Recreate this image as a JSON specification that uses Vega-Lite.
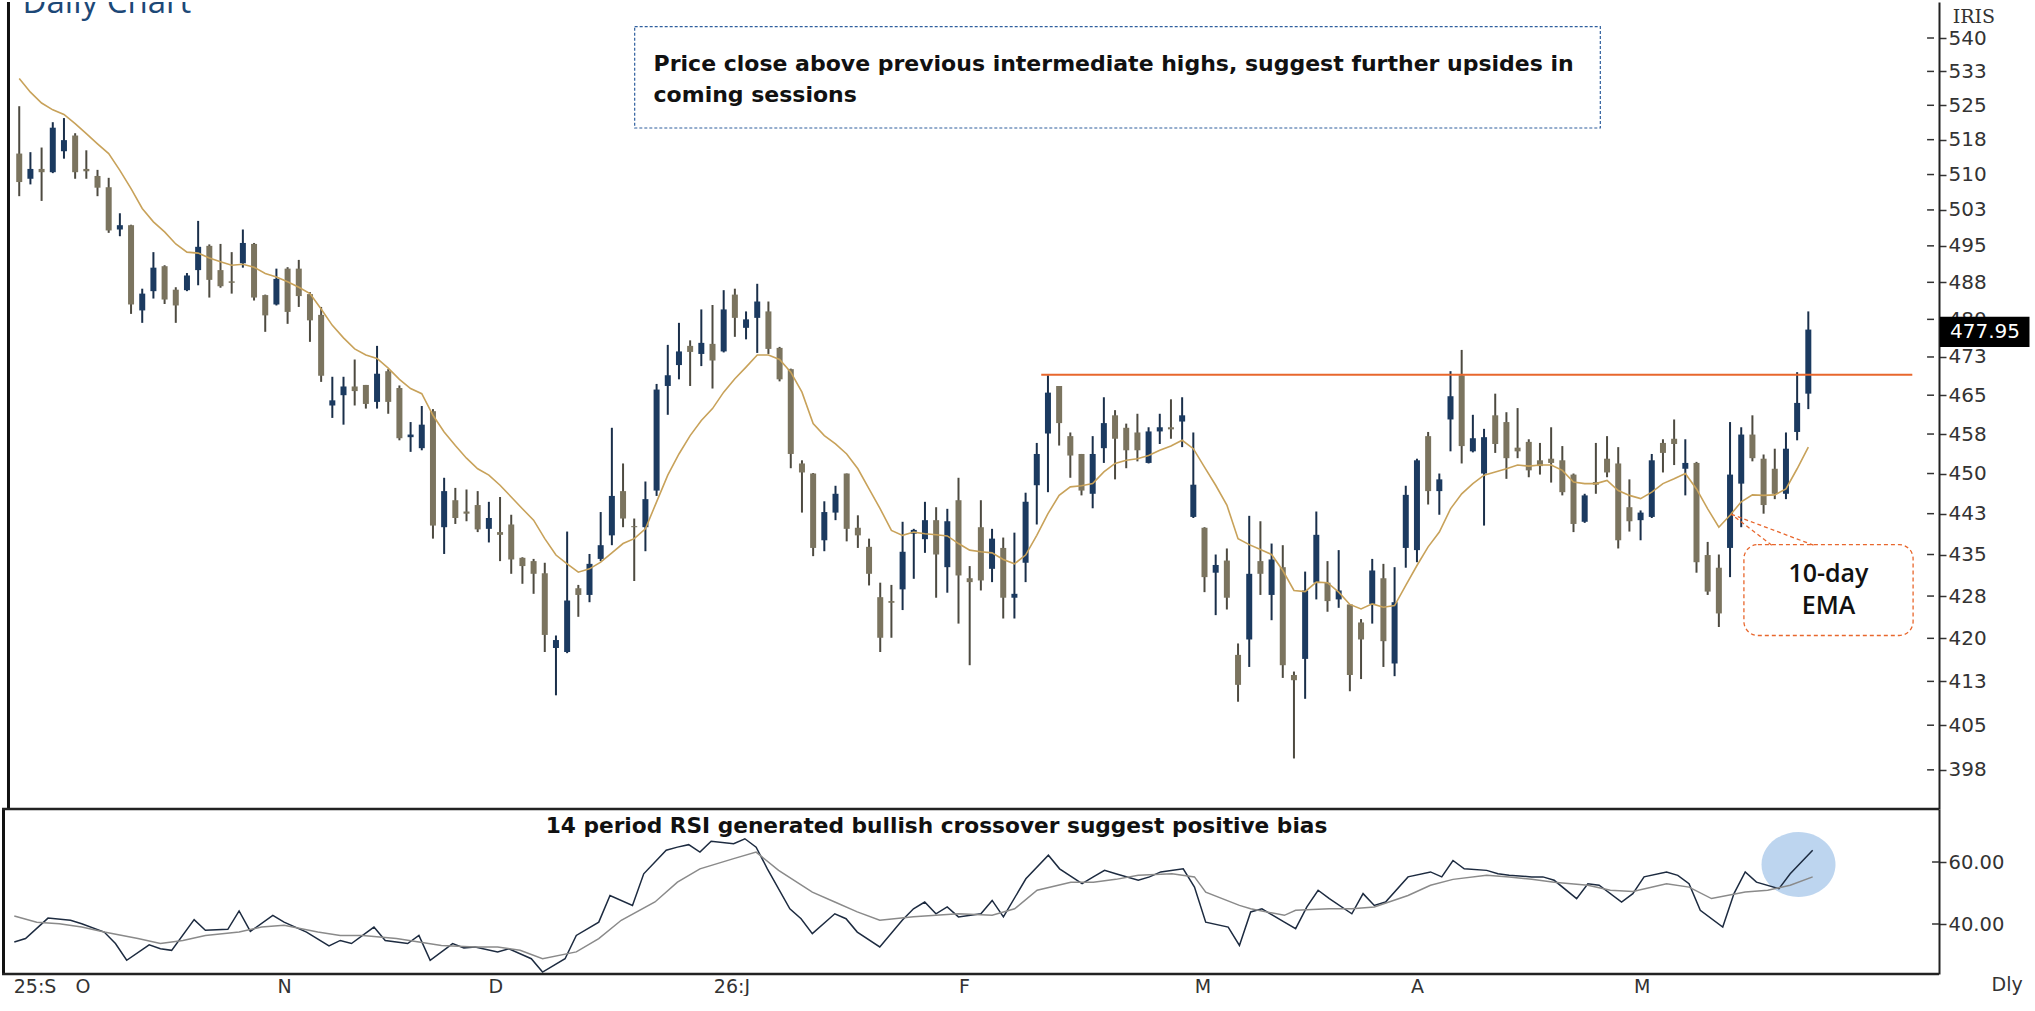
{
"$schema": "https://vega.github.io/schema/vega-lite/v6.json",
"background": "white",
"padding": {"left": 0, "top": 0, "right": 0, "bottom": 0},
"spacing": 0,
"bounds": "flush",
"config": {"view": {"stroke": null}, "axis": {"grid": false, "title": null}},
"datasets": {
"px": [
{"i":0,"o":514.5,"h":524.8,"l":505.4,"c":508.4,"e":530.9},
{"i":1,"o":509.1,"h":514.8,"l":507.9,"c":511.2,"e":527.9},
{"i":2,"o":511.2,"h":515.8,"l":504.4,"c":510.5,"e":525.5},
{"i":3,"o":510.5,"h":521.3,"l":510.3,"c":520.1,"e":524.0},
{"i":4,"o":515.0,"h":522.2,"l":513.4,"c":517.4,"e":523.0},
{"i":5,"o":518.4,"h":518.9,"l":509.1,"c":510.5,"e":521.0},
{"i":6,"o":511.2,"h":515.2,"l":509.1,"c":510.7,"e":518.8},
{"i":7,"o":509.7,"h":511.0,"l":505.4,"c":507.2,"e":516.6},
{"i":8,"o":507.3,"h":509.3,"l":497.7,"c":498.2,"e":514.5},
{"i":9,"o":498.4,"h":501.8,"l":497.0,"c":499.3,"e":510.9},
{"i":10,"o":499.3,"h":499.4,"l":481.1,"c":483.0,"e":507.0},
{"i":11,"o":481.8,"h":486.2,"l":479.3,"c":485.2,"e":502.8},
{"i":12,"o":485.7,"h":493.7,"l":484.2,"c":490.5,"e":500.0},
{"i":13,"o":490.8,"h":491.0,"l":483.1,"c":484.0,"e":497.9},
{"i":14,"o":486.0,"h":486.5,"l":479.3,"c":482.8,"e":495.4},
{"i":15,"o":485.9,"h":489.4,"l":485.7,"c":488.9,"e":493.7},
{"i":16,"o":490.0,"h":500.2,"l":486.9,"c":494.8,"e":493.5},
{"i":17,"o":495.0,"h":495.3,"l":484.4,"c":488.0,"e":492.5},
{"i":18,"o":490.0,"h":495.4,"l":486.4,"c":486.7,"e":491.7},
{"i":19,"o":487.7,"h":493.7,"l":485.2,"c":487.4,"e":491.0},
{"i":20,"o":491.4,"h":498.4,"l":490.5,"c":495.6,"e":491.2},
{"i":21,"o":495.4,"h":495.6,"l":483.8,"c":484.4,"e":490.6},
{"i":22,"o":484.9,"h":485.0,"l":477.5,"c":480.8,"e":489.3},
{"i":23,"o":483.0,"h":490.3,"l":482.8,"c":488.2,"e":488.6},
{"i":24,"o":490.3,"h":490.6,"l":479.1,"c":481.5,"e":487.6},
{"i":25,"o":490.3,"h":492.1,"l":482.5,"c":484.7,"e":486.5},
{"i":26,"o":485.1,"h":485.5,"l":475.5,"c":479.8,"e":485.2},
{"i":27,"o":480.9,"h":482.5,"l":467.6,"c":468.8,"e":482.1},
{"i":28,"o":463.0,"h":468.6,"l":460.6,"c":464.0,"e":478.8},
{"i":29,"o":465.0,"h":468.6,"l":459.3,"c":466.7,"e":476.3},
{"i":30,"o":466.7,"h":472.0,"l":463.0,"c":465.8,"e":474.1},
{"i":31,"o":467.0,"h":467.0,"l":462.4,"c":463.3,"e":472.9},
{"i":32,"o":463.7,"h":474.7,"l":462.4,"c":469.2,"e":472.2},
{"i":33,"o":469.7,"h":470.1,"l":461.4,"c":463.7,"e":470.3},
{"i":34,"o":466.4,"h":466.9,"l":456.3,"c":456.7,"e":468.1},
{"i":35,"o":456.9,"h":459.8,"l":454.1,"c":457.4,"e":466.3},
{"i":36,"o":454.8,"h":462.9,"l":454.4,"c":459.3,"e":465.3},
{"i":37,"o":461.9,"h":462.3,"l":437.9,"c":440.3,"e":461.1},
{"i":38,"o":440.0,"h":449.2,"l":435.1,"c":446.7,"e":457.9},
{"i":39,"o":445.0,"h":447.3,"l":440.6,"c":441.7,"e":455.3},
{"i":40,"o":442.9,"h":447.0,"l":441.1,"c":442.5,"e":452.9},
{"i":41,"o":444.1,"h":446.7,"l":439.1,"c":439.6,"e":450.9},
{"i":42,"o":439.7,"h":444.7,"l":437.2,"c":441.7,"e":449.7},
{"i":43,"o":439.1,"h":445.6,"l":433.8,"c":438.6,"e":447.8},
{"i":44,"o":440.5,"h":442.3,"l":431.5,"c":434.1,"e":445.6},
{"i":45,"o":434.4,"h":434.5,"l":429.7,"c":432.9,"e":443.4},
{"i":46,"o":433.8,"h":434.2,"l":427.9,"c":431.5,"e":441.3},
{"i":47,"o":431.6,"h":433.5,"l":417.6,"c":420.6,"e":437.9},
{"i":48,"o":418.3,"h":420.5,"l":410.1,"c":419.7,"e":434.9},
{"i":49,"o":417.6,"h":439.2,"l":417.4,"c":426.7,"e":433.3},
{"i":50,"o":428.9,"h":429.5,"l":423.8,"c":427.7,"e":431.8},
{"i":51,"o":427.7,"h":435.1,"l":426.4,"c":433.3,"e":432.4},
{"i":52,"o":434.2,"h":442.8,"l":433.8,"c":436.7,"e":433.6},
{"i":53,"o":438.5,"h":458.7,"l":436.7,"c":445.8,"e":435.3},
{"i":54,"o":446.7,"h":451.9,"l":440.0,"c":441.6,"e":437.0},
{"i":55,"o":440.2,"h":441.6,"l":430.2,"c":440.0,"e":437.9},
{"i":56,"o":440.0,"h":448.5,"l":435.6,"c":445.2,"e":439.7},
{"i":57,"o":446.8,"h":467.2,"l":445.8,"c":466.1,"e":444.7},
{"i":58,"o":466.8,"h":474.9,"l":461.2,"c":468.9,"e":449.7},
{"i":59,"o":470.9,"h":479.3,"l":468.1,"c":473.6,"e":453.7},
{"i":60,"o":474.7,"h":475.8,"l":466.8,"c":473.5,"e":457.2},
{"i":61,"o":473.1,"h":482.0,"l":470.7,"c":475.3,"e":460.1},
{"i":62,"o":475.1,"h":482.9,"l":466.3,"c":471.8,"e":462.4},
{"i":63,"o":473.6,"h":485.9,"l":473.4,"c":482.0,"e":465.6},
{"i":64,"o":485.0,"h":486.2,"l":476.5,"c":480.3,"e":468.2},
{"i":65,"o":478.3,"h":481.6,"l":476.0,"c":480.0,"e":470.5},
{"i":66,"o":480.3,"h":487.2,"l":473.3,"c":483.6,"e":472.9},
{"i":67,"o":481.6,"h":483.6,"l":473.1,"c":474.1,"e":472.9},
{"i":68,"o":474.3,"h":474.5,"l":467.7,"c":468.1,"e":472.0},
{"i":69,"o":470.1,"h":470.2,"l":451.0,"c":453.7,"e":469.5},
{"i":70,"o":451.9,"h":452.5,"l":442.7,"c":450.2,"e":465.6},
{"i":71,"o":450.0,"h":450.1,"l":434.7,"c":436.2,"e":459.5},
{"i":72,"o":437.6,"h":444.8,"l":435.6,"c":442.8,"e":457.2},
{"i":73,"o":442.7,"h":447.7,"l":441.3,"c":446.2,"e":455.6},
{"i":74,"o":450.0,"h":450.0,"l":437.4,"c":439.7,"e":453.7},
{"i":75,"o":439.9,"h":442.2,"l":436.2,"c":438.5,"e":450.9},
{"i":76,"o":436.4,"h":437.9,"l":429.4,"c":431.5,"e":447.1},
{"i":77,"o":427.3,"h":429.9,"l":417.6,"c":420.1,"e":443.4},
{"i":78,"o":426.6,"h":429.5,"l":420.1,"c":426.3,"e":439.4},
{"i":79,"o":428.7,"h":441.0,"l":425.0,"c":435.5,"e":438.5},
{"i":80,"o":438.8,"h":439.7,"l":430.6,"c":439.5,"e":439.1},
{"i":81,"o":437.8,"h":444.7,"l":435.3,"c":441.3,"e":438.8},
{"i":82,"o":441.3,"h":443.7,"l":427.2,"c":435.0,"e":438.6},
{"i":83,"o":432.7,"h":443.4,"l":428.1,"c":441.1,"e":438.4},
{"i":84,"o":445.0,"h":449.2,"l":422.6,"c":431.2,"e":437.0},
{"i":85,"o":430.7,"h":432.9,"l":415.3,"c":430.0,"e":435.8},
{"i":86,"o":440.0,"h":445.0,"l":428.5,"c":430.3,"e":435.5},
{"i":87,"o":432.4,"h":439.7,"l":430.0,"c":437.9,"e":435.3},
{"i":88,"o":436.2,"h":438.1,"l":423.5,"c":427.2,"e":434.1},
{"i":89,"o":427.2,"h":439.0,"l":423.5,"c":427.9,"e":433.3},
{"i":90,"o":433.5,"h":446.4,"l":430.0,"c":444.7,"e":434.9},
{"i":91,"o":447.8,"h":455.8,"l":440.5,"c":453.7,"e":438.5},
{"i":92,"o":457.6,"h":468.9,"l":446.5,"c":465.5,"e":442.5},
{"i":93,"o":466.8,"h":466.8,"l":455.3,"c":459.6,"e":445.9},
{"i":94,"o":457.1,"h":457.8,"l":449.2,"c":453.4,"e":447.5},
{"i":95,"o":453.7,"h":453.7,"l":445.9,"c":446.8,"e":447.7},
{"i":96,"o":446.2,"h":457.1,"l":443.5,"c":453.7,"e":448.1},
{"i":97,"o":454.8,"h":464.6,"l":452.0,"c":459.6,"e":450.3},
{"i":98,"o":461.1,"h":462.1,"l":448.9,"c":456.6,"e":451.9},
{"i":99,"o":458.7,"h":459.5,"l":451.0,"c":454.4,"e":452.5},
{"i":100,"o":457.8,"h":461.4,"l":452.3,"c":454.4,"e":452.8},
{"i":101,"o":452.0,"h":458.8,"l":451.9,"c":458.0,"e":453.4},
{"i":102,"o":458.0,"h":461.4,"l":455.6,"c":458.8,"e":454.4},
{"i":103,"o":458.8,"h":464.2,"l":456.6,"c":458.4,"e":455.2},
{"i":104,"o":459.9,"h":464.6,"l":455.0,"c":461.1,"e":456.3},
{"i":105,"o":441.9,"h":457.8,"l":441.7,"c":447.9,"e":454.7},
{"i":106,"o":439.9,"h":440.0,"l":428.2,"c":430.9,"e":451.2},
{"i":107,"o":431.7,"h":435.0,"l":424.1,"c":433.1,"e":447.8},
{"i":108,"o":433.9,"h":436.1,"l":425.1,"c":427.2,"e":444.1},
{"i":109,"o":417.1,"h":419.1,"l":409.0,"c":411.9,"e":437.9},
{"i":110,"o":419.8,"h":442.1,"l":415.0,"c":431.5,"e":436.8},
{"i":111,"o":433.8,"h":441.1,"l":427.7,"c":431.5,"e":435.9},
{"i":112,"o":427.7,"h":437.0,"l":423.2,"c":434.1,"e":435.0},
{"i":113,"o":432.7,"h":436.7,"l":413.1,"c":415.3,"e":432.1},
{"i":114,"o":413.6,"h":414.2,"l":399.4,"c":412.7,"e":428.5},
{"i":115,"o":416.4,"h":431.9,"l":409.5,"c":428.5,"e":428.3},
{"i":116,"o":429.9,"h":442.9,"l":426.9,"c":438.6,"e":430.0},
{"i":117,"o":429.9,"h":433.8,"l":424.7,"c":426.6,"e":429.9},
{"i":118,"o":426.9,"h":435.8,"l":425.4,"c":428.5,"e":428.2},
{"i":119,"o":426.0,"h":426.0,"l":410.8,"c":413.6,"e":426.0},
{"i":120,"o":422.8,"h":423.4,"l":412.9,"c":419.8,"e":425.2},
{"i":121,"o":426.1,"h":434.2,"l":422.6,"c":432.1,"e":426.1},
{"i":122,"o":430.7,"h":433.3,"l":415.0,"c":419.5,"e":425.5},
{"i":123,"o":415.6,"h":432.7,"l":413.4,"c":426.4,"e":425.8},
{"i":124,"o":436.2,"h":447.7,"l":432.6,"c":446.0,"e":429.4},
{"i":125,"o":435.8,"h":452.8,"l":433.6,"c":452.5,"e":433.0},
{"i":126,"o":457.1,"h":457.9,"l":444.2,"c":446.7,"e":436.4},
{"i":127,"o":446.7,"h":450.0,"l":442.3,"c":448.9,"e":439.1},
{"i":128,"o":460.3,"h":469.7,"l":454.2,"c":464.8,"e":443.4},
{"i":129,"o":468.9,"h":473.9,"l":451.9,"c":455.2,"e":446.2},
{"i":130,"o":454.2,"h":461.2,"l":454.0,"c":456.7,"e":448.1},
{"i":131,"o":450.0,"h":458.5,"l":440.3,"c":456.9,"e":449.7},
{"i":132,"o":461.1,"h":465.3,"l":453.9,"c":455.6,"e":450.3},
{"i":133,"o":459.8,"h":461.7,"l":449.0,"c":452.9,"e":450.9},
{"i":134,"o":454.9,"h":462.5,"l":452.9,"c":454.2,"e":451.6},
{"i":135,"o":456.0,"h":456.5,"l":449.3,"c":450.6,"e":451.4},
{"i":136,"o":452.5,"h":455.8,"l":449.8,"c":451.4,"e":451.6},
{"i":137,"o":452.8,"h":458.8,"l":448.3,"c":452.0,"e":451.6},
{"i":138,"o":452.5,"h":455.2,"l":445.9,"c":446.5,"e":450.6},
{"i":139,"o":449.8,"h":450.0,"l":439.1,"c":440.6,"e":448.4},
{"i":140,"o":441.0,"h":446.2,"l":440.8,"c":445.9,"e":448.1},
{"i":141,"o":448.4,"h":455.8,"l":446.2,"c":447.9,"e":448.1},
{"i":142,"o":452.8,"h":457.1,"l":449.3,"c":450.2,"e":448.7},
{"i":143,"o":451.9,"h":455.0,"l":436.1,"c":437.6,"e":446.8},
{"i":144,"o":443.7,"h":448.9,"l":439.2,"c":441.1,"e":445.9},
{"i":145,"o":441.3,"h":443.1,"l":437.6,"c":442.7,"e":445.3},
{"i":146,"o":441.9,"h":453.7,"l":441.7,"c":452.5,"e":446.5},
{"i":147,"o":455.8,"h":456.5,"l":450.2,"c":453.9,"e":448.1},
{"i":148,"o":456.6,"h":460.3,"l":451.6,"c":455.6,"e":449.0},
{"i":149,"o":450.9,"h":456.5,"l":445.9,"c":452.0,"e":450.0},
{"i":150,"o":452.0,"h":452.2,"l":431.7,"c":433.6,"e":447.1},
{"i":151,"o":434.9,"h":437.3,"l":427.7,"c":428.3,"e":443.4},
{"i":152,"o":432.6,"h":435.0,"l":422.0,"c":424.4,"e":440.0},
{"i":153,"o":436.2,"h":459.8,"l":430.9,"c":449.8,"e":442.2},
{"i":154,"o":448.1,"h":458.8,"l":440.0,"c":457.4,"e":444.7},
{"i":155,"o":457.4,"h":461.1,"l":452.3,"c":452.9,"e":446.0},
{"i":156,"o":452.8,"h":453.6,"l":442.5,"c":444.1,"e":445.9},
{"i":157,"o":450.9,"h":454.7,"l":445.2,"c":446.2,"e":446.0},
{"i":158,"o":446.2,"h":457.8,"l":445.2,"c":454.7,"e":447.1},
{"i":159,"o":457.9,"h":469.5,"l":456.3,"c":463.5,"e":450.9},
{"i":160,"o":465.3,"h":481.6,"l":462.3,"c":477.95,"e":455.0}
],
"ptk": [{"t":540},{"t":532.5},{"t":525},{"t":517.5},{"t":510},{"t":502.5},{"t":495},{"t":487.5},{"t":480},{"t":472.5},{"t":465},{"t":457.5},{"t":450},{"t":442.5},{"t":435},{"t":427.5},{"t":420},{"t":412.5},{"t":405},{"t":397.5}],
"rtk": [{"t":40},{"t":60}],
"rsi": [
{"i":0,"v":34.2,"k":"RSI"},{"i":1,"v":35.3,"k":"RSI"},{"i":3,"v":41.9,"k":"RSI"},{"i":5,"v":41.2,"k":"RSI"},{"i":6,"v":40.1,"k":"RSI"},{"i":8,"v":37.4,"k":"RSI"},{"i":9,"v":33.7,"k":"RSI"},{"i":10,"v":28.3,"k":"RSI"},{"i":12,"v":33.3,"k":"RSI"},{"i":13,"v":32.0,"k":"RSI"},{"i":14,"v":31.5,"k":"RSI"},{"i":16,"v":41.4,"k":"RSI"},{"i":17,"v":38.0,"k":"RSI"},{"i":19,"v":38.3,"k":"RSI"},{"i":20,"v":44.2,"k":"RSI"},{"i":21,"v":37.6,"k":"RSI"},{"i":23,"v":42.8,"k":"RSI"},{"i":24,"v":40.6,"k":"RSI"},{"i":26,"v":37.4,"k":"RSI"},{"i":28,"v":32.9,"k":"RSI"},{"i":29,"v":34.7,"k":"RSI"},{"i":30,"v":33.7,"k":"RSI"},{"i":32,"v":39.0,"k":"RSI"},{"i":33,"v":34.7,"k":"RSI"},{"i":35,"v":33.7,"k":"RSI"},{"i":36,"v":36.3,"k":"RSI"},{"i":37,"v":28.3,"k":"RSI"},{"i":39,"v":33.7,"k":"RSI"},{"i":40,"v":32.3,"k":"RSI"},{"i":41,"v":32.6,"k":"RSI"},{"i":43,"v":31.0,"k":"RSI"},{"i":44,"v":32.0,"k":"RSI"},{"i":46,"v":28.8,"k":"RSI"},{"i":47,"v":24.5,"k":"RSI"},{"i":49,"v":28.8,"k":"RSI"},{"i":50,"v":36.3,"k":"RSI"},{"i":52,"v":40.6,"k":"RSI"},{"i":53,"v":49.2,"k":"RSI"},{"i":55,"v":46.0,"k":"RSI"},{"i":56,"v":56.2,"k":"RSI"},{"i":58,"v":63.8,"k":"RSI"},{"i":59,"v":64.8,"k":"RSI"},{"i":60,"v":65.6,"k":"RSI"},{"i":61,"v":63.2,"k":"RSI"},{"i":62,"v":66.7,"k":"RSI"},{"i":64,"v":65.9,"k":"RSI"},{"i":65,"v":67.5,"k":"RSI"},{"i":66,"v":64.8,"k":"RSI"},{"i":67,"v":57.8,"k":"RSI"},{"i":69,"v":44.9,"k":"RSI"},{"i":70,"v":41.7,"k":"RSI"},{"i":71,"v":36.9,"k":"RSI"},{"i":73,"v":43.3,"k":"RSI"},{"i":74,"v":41.7,"k":"RSI"},{"i":75,"v":37.4,"k":"RSI"},{"i":77,"v":32.6,"k":"RSI"},{"i":79,"v":41.2,"k":"RSI"},{"i":80,"v":44.9,"k":"RSI"},{"i":81,"v":47.1,"k":"RSI"},{"i":82,"v":43.3,"k":"RSI"},{"i":83,"v":45.5,"k":"RSI"},{"i":84,"v":42.3,"k":"RSI"},{"i":86,"v":43.3,"k":"RSI"},{"i":87,"v":47.6,"k":"RSI"},{"i":88,"v":42.3,"k":"RSI"},{"i":90,"v":54.6,"k":"RSI"},{"i":92,"v":62.2,"k":"RSI"},{"i":93,"v":57.8,"k":"RSI"},{"i":95,"v":53.0,"k":"RSI"},{"i":96,"v":55.2,"k":"RSI"},{"i":97,"v":57.3,"k":"RSI"},{"i":98,"v":56.2,"k":"RSI"},{"i":100,"v":54.1,"k":"RSI"},{"i":101,"v":55.2,"k":"RSI"},{"i":102,"v":56.8,"k":"RSI"},{"i":104,"v":57.8,"k":"RSI"},{"i":105,"v":51.9,"k":"RSI"},{"i":106,"v":40.6,"k":"RSI"},{"i":108,"v":39.0,"k":"RSI"},{"i":109,"v":33.1,"k":"RSI"},{"i":110,"v":43.9,"k":"RSI"},{"i":111,"v":44.9,"k":"RSI"},{"i":113,"v":40.6,"k":"RSI"},{"i":114,"v":38.5,"k":"RSI"},{"i":115,"v":45.5,"k":"RSI"},{"i":116,"v":50.9,"k":"RSI"},{"i":117,"v":48.2,"k":"RSI"},{"i":119,"v":43.3,"k":"RSI"},{"i":120,"v":49.8,"k":"RSI"},{"i":121,"v":46.0,"k":"RSI"},{"i":122,"v":47.1,"k":"RSI"},{"i":124,"v":55.2,"k":"RSI"},{"i":126,"v":56.8,"k":"RSI"},{"i":127,"v":55.2,"k":"RSI"},{"i":128,"v":60.5,"k":"RSI"},{"i":129,"v":57.8,"k":"RSI"},{"i":131,"v":57.3,"k":"RSI"},{"i":132,"v":56.2,"k":"RSI"},{"i":133,"v":55.7,"k":"RSI"},{"i":135,"v":55.2,"k":"RSI"},{"i":136,"v":55.2,"k":"RSI"},{"i":137,"v":54.1,"k":"RSI"},{"i":139,"v":48.2,"k":"RSI"},{"i":140,"v":53.0,"k":"RSI"},{"i":141,"v":52.5,"k":"RSI"},{"i":143,"v":47.1,"k":"RSI"},{"i":144,"v":49.8,"k":"RSI"},{"i":145,"v":55.2,"k":"RSI"},{"i":147,"v":56.8,"k":"RSI"},{"i":148,"v":55.7,"k":"RSI"},{"i":149,"v":53.0,"k":"RSI"},{"i":150,"v":44.4,"k":"RSI"},{"i":152,"v":39.0,"k":"RSI"},{"i":153,"v":49.8,"k":"RSI"},{"i":154,"v":56.8,"k":"RSI"},{"i":155,"v":53.5,"k":"RSI"},{"i":157,"v":51.4,"k":"RSI"},{"i":158,"v":56.2,"k":"RSI"},{"i":160,"v":63.8,"k":"RSI"},
{"i":0,"v":42.6,"k":"SIG"},{"i":2,"v":40.6,"k":"SIG"},{"i":4,"v":40.1,"k":"SIG"},{"i":6,"v":39.0,"k":"SIG"},{"i":8,"v":37.4,"k":"SIG"},{"i":11,"v":35.3,"k":"SIG"},{"i":13,"v":33.7,"k":"SIG"},{"i":15,"v":34.7,"k":"SIG"},{"i":17,"v":36.3,"k":"SIG"},{"i":20,"v":37.4,"k":"SIG"},{"i":22,"v":39.0,"k":"SIG"},{"i":24,"v":39.6,"k":"SIG"},{"i":27,"v":37.4,"k":"SIG"},{"i":29,"v":36.3,"k":"SIG"},{"i":31,"v":36.3,"k":"SIG"},{"i":34,"v":35.3,"k":"SIG"},{"i":36,"v":34.2,"k":"SIG"},{"i":38,"v":33.1,"k":"SIG"},{"i":41,"v":32.6,"k":"SIG"},{"i":43,"v":32.6,"k":"SIG"},{"i":45,"v":31.5,"k":"SIG"},{"i":47,"v":28.8,"k":"SIG"},{"i":50,"v":31.0,"k":"SIG"},{"i":52,"v":35.3,"k":"SIG"},{"i":54,"v":41.2,"k":"SIG"},{"i":57,"v":47.1,"k":"SIG"},{"i":59,"v":53.5,"k":"SIG"},{"i":61,"v":57.8,"k":"SIG"},{"i":64,"v":61.1,"k":"SIG"},{"i":66,"v":63.2,"k":"SIG"},{"i":68,"v":57.3,"k":"SIG"},{"i":71,"v":50.3,"k":"SIG"},{"i":73,"v":47.1,"k":"SIG"},{"i":75,"v":43.9,"k":"SIG"},{"i":77,"v":41.2,"k":"SIG"},{"i":80,"v":42.3,"k":"SIG"},{"i":82,"v":42.8,"k":"SIG"},{"i":84,"v":43.3,"k":"SIG"},{"i":87,"v":42.8,"k":"SIG"},{"i":89,"v":44.9,"k":"SIG"},{"i":91,"v":50.9,"k":"SIG"},{"i":94,"v":53.5,"k":"SIG"},{"i":96,"v":53.5,"k":"SIG"},{"i":98,"v":54.4,"k":"SIG"},{"i":100,"v":55.7,"k":"SIG"},{"i":103,"v":56.2,"k":"SIG"},{"i":105,"v":55.2,"k":"SIG"},{"i":106,"v":50.3,"k":"SIG"},{"i":109,"v":46.0,"k":"SIG"},{"i":110,"v":44.9,"k":"SIG"},{"i":113,"v":42.8,"k":"SIG"},{"i":114,"v":44.4,"k":"SIG"},{"i":117,"v":44.9,"k":"SIG"},{"i":119,"v":44.9,"k":"SIG"},{"i":121,"v":45.5,"k":"SIG"},{"i":124,"v":49.2,"k":"SIG"},{"i":126,"v":52.5,"k":"SIG"},{"i":128,"v":54.4,"k":"SIG"},{"i":131,"v":55.7,"k":"SIG"},{"i":133,"v":55.2,"k":"SIG"},{"i":135,"v":54.4,"k":"SIG"},{"i":137,"v":53.5,"k":"SIG"},{"i":140,"v":52.5,"k":"SIG"},{"i":142,"v":50.9,"k":"SIG"},{"i":144,"v":50.5,"k":"SIG"},{"i":147,"v":53.0,"k":"SIG"},{"i":149,"v":51.9,"k":"SIG"},{"i":151,"v":48.2,"k":"SIG"},{"i":154,"v":50.3,"k":"SIG"},{"i":156,"v":50.9,"k":"SIG"},{"i":158,"v":52.5,"k":"SIG"},{"i":160,"v":55.2,"k":"SIG"}
]
},
"vconcat": [
{
"width": 1937,
"height": 807,
"layer": [
{"data": {"name": "px"},
 "encoding": {"x": {"field": "i", "type": "quantitative", "scale": {"domain": [-1.094, 171.24], "nice": false, "zero": false}, "axis": null}},
 "layer": [
  {"mark": {"type": "rule", "strokeWidth": 2},
   "encoding": {
    "y": {"field": "l", "type": "quantitative", "scale": {"type": "log", "domain": [391.04, 548.2], "nice": false, "zero": false},
     "axis": {"orient": "right", "values": [540, 532.5, 525, 517.5, 510, 502.5, 495, 487.5, 480, 472.5, 465, 457.5, 450, 442.5, 435, 427.5, 420, 412.5, 405, 397.5], "format": ".0f", "title": null, "grid": false, "domain": true, "domainColor": "#222222", "domainWidth": 2, "ticks": true, "tickSize": 7, "tickColor": "#333333", "tickWidth": 1.5, "labelFont": "DejaVu Sans", "labelFontSize": 20, "labelColor": "#333333", "labelPadding": 2, "labelOverlap": false, "labelBound": false, "labelFlush": false}},
    "y2": {"field": "h"},
    "color": {"condition": {"test": "datum.c >= datum.o", "value": "#1a2f4a"}, "value": "#4d4a40"}}},
  {"mark": {"type": "bar", "width": 6},
   "encoding": {
    "y": {"field": "o", "type": "quantitative", "title": null},
    "y2": {"field": "c"},
    "color": {"condition": {"test": "datum.c >= datum.o", "value": "#1b3a60"}, "value": "#7b745f"}}},
  {"mark": {"type": "line", "color": "#c8a25a", "strokeWidth": 1.6},
   "encoding": {"y": {"field": "e", "type": "quantitative", "title": null}}}
 ]
},
{"data": {"name": "ptk"}, "mark": {"type": "rule", "color": "#333333", "strokeWidth": 1.5}, "encoding": {"x": {"datum": 170.62, "type": "quantitative", "axis": null}, "x2": {"datum": 171.24}, "y": {"field": "t", "type": "quantitative", "title": null}}},
{"data": {"values": [{}]}, "mark": {"type": "rule", "color": "#111111", "strokeWidth": 3}, "encoding": {"x": {"datum": -0.961, "type": "quantitative", "axis": null}}},
{"data": {"values": [{}]}, "mark": {"type": "rect", "fill": "white", "stroke": "#2f5f9e", "strokeWidth": 1.2, "strokeDash": [3, 2]}, "encoding": {"x": {"datum": 55.04, "type": "quantitative", "axis": null}, "x2": {"datum": 141.4}, "y": {"datum": 542.56, "type": "quantitative", "title": null}, "y2": {"datum": 520.03}}},
{"data": {"values": [{}]}, "mark": {"type": "text", "align": "left", "baseline": "middle", "font": "DejaVu Sans", "fontWeight": "bold", "fontSize": 22, "color": "#111111"}, "encoding": {"x": {"datum": 56.73, "type": "quantitative", "axis": null}, "y": {"datum": 534.16, "type": "quantitative", "title": null}, "text": {"value": "Price close above previous intermediate highs, suggest further upsides in"}}},
{"data": {"values": [{}]}, "mark": {"type": "text", "align": "left", "baseline": "middle", "font": "DejaVu Sans", "fontWeight": "bold", "fontSize": 22, "color": "#111111"}, "encoding": {"x": {"datum": 56.73, "type": "quantitative", "axis": null}, "y": {"datum": 527.27, "type": "quantitative", "title": null}, "text": {"value": "coming sessions"}}},
{"data": {"values": [{}]}, "mark": {"type": "text", "align": "left", "baseline": "alphabetic", "font": "Open Sans", "fontSize": 33, "color": "#1c4877", "clip": true}, "encoding": {"x": {"datum": 0.3, "type": "quantitative", "axis": null}, "y": {"datum": 545.6, "type": "quantitative", "title": null}, "text": {"value": "Daily Chart"}}},
{"data": {"values": [{}]}, "mark": {"type": "rule", "color": "#e8672d", "strokeWidth": 2}, "encoding": {"x": {"datum": 91.4, "type": "quantitative", "axis": null}, "x2": {"datum": 169.3}, "y": {"datum": 469, "type": "quantitative", "title": null}}},
{"data": {"values": [{}]}, "mark": {"type": "rect", "fill": "white", "stroke": "#e8672d", "strokeWidth": 1.3, "strokeDash": [4, 3], "cornerRadius": 14}, "encoding": {"x": {"datum": 154.24, "type": "quantitative", "axis": null}, "x2": {"datum": 169.37}, "y": {"datum": 436.8, "type": "quantitative", "title": null}, "y2": {"datum": 420.5}}},
{"data": {"values": [{}]}, "mark": {"type": "rule", "color": "#e8672d", "strokeWidth": 1.3, "strokeDash": [4, 3]}, "encoding": {"x": {"datum": 156.73, "type": "quantitative", "axis": null}, "x2": {"datum": 153.11}, "y": {"datum": 436.7, "type": "quantitative", "title": null}, "y2": {"datum": 442.4}}},
{"data": {"values": [{}]}, "mark": {"type": "rule", "color": "#e8672d", "strokeWidth": 1.3, "strokeDash": [4, 3]}, "encoding": {"x": {"datum": 160.47, "type": "quantitative", "axis": null}, "x2": {"datum": 153.11}, "y": {"datum": 436.7, "type": "quantitative", "title": null}, "y2": {"datum": 442.4}}},
{"data": {"values": [{}]}, "mark": {"type": "text", "align": "center", "baseline": "middle", "font": "Open Sans", "fontWeight": 600, "fontSize": 25, "color": "#111111"}, "encoding": {"x": {"datum": 161.8, "type": "quantitative", "axis": null}, "y": {"datum": 431.4, "type": "quantitative", "title": null}, "text": {"value": "10-day"}}},
{"data": {"values": [{}]}, "mark": {"type": "text", "align": "center", "baseline": "middle", "font": "Open Sans", "fontWeight": 600, "fontSize": 25, "color": "#111111"}, "encoding": {"x": {"datum": 161.8, "type": "quantitative", "axis": null}, "y": {"datum": 425.7, "type": "quantitative", "title": null}, "text": {"value": "EMA"}}},
{"data": {"values": [{}]}, "mark": {"type": "text", "align": "center", "baseline": "middle", "font": "DejaVu Serif", "fontSize": 19, "color": "#333333"}, "encoding": {"x": {"datum": 174.8, "type": "quantitative", "axis": null}, "y": {"datum": 544.8, "type": "quantitative", "title": null}, "text": {"value": "IRIS"}}},
{"data": {"values": [{}]}, "mark": {"type": "rect", "fill": "#000000"}, "encoding": {"x": {"datum": 171.77, "type": "quantitative", "axis": null}, "x2": {"datum": 179.78}, "y": {"datum": 480.5, "type": "quantitative", "title": null}, "y2": {"datum": 474.5}}},
{"data": {"values": [{}]}, "mark": {"type": "text", "align": "center", "baseline": "middle", "font": "DejaVu Sans", "fontSize": 20, "color": "#ffffff"}, "encoding": {"x": {"datum": 175.8, "type": "quantitative", "axis": null}, "y": {"datum": 477.5, "type": "quantitative", "title": null}, "text": {"value": "477.95"}}}
]
},
{
"width": 1937,
"height": 165,
"layer": [
{"data": {"values": [{}]}, "mark": {"type": "point", "shape": "M-1,0A1,0.878,0,1,1,1,0A1,0.878,0,1,1,-1,0Z", "size": 5476, "filled": true, "color": "#a7c7e9", "opacity": 0.75, "strokeWidth": 0}, "encoding": {"x": {"datum": 158.74, "type": "quantitative", "title": null}, "y": {"datum": 59.2, "type": "quantitative", "title": null}}},
{"data": {"name": "rsi"}, "mark": {"type": "line", "strokeWidth": 1.5},
 "encoding": {
  "x": {"field": "i", "type": "quantitative", "scale": {"domain": [-1.094, 171.24], "nice": false, "zero": false},
   "axis": {"orient": "bottom", "values": [1.8, 6.07, 24, 42.8, 63.8, 84.5, 105.7, 124.8, 144.8], "labelExpr": "datum.value < 3 ? '25:S' : datum.value < 10 ? 'O' : datum.value < 30 ? 'N' : datum.value < 50 ? 'D' : datum.value < 70 ? '26:J' : datum.value < 90 ? 'F' : datum.value < 115 ? 'M' : datum.value < 130 ? 'A' : 'M'", "title": null, "grid": false, "domain": false, "ticks": false, "labelFont": "DejaVu Sans", "labelFontSize": 19, "labelColor": "#333333", "labelPadding": 3, "labelOverlap": false, "labelBound": false, "labelFlush": false}},
  "y": {"field": "v", "type": "quantitative", "scale": {"domain": [23.87, 77.1], "nice": false, "zero": false},
   "axis": {"orient": "right", "values": [40, 60], "format": ".2f", "title": null, "grid": false, "domain": true, "domainColor": "#222222", "domainWidth": 2, "ticks": true, "tickSize": 7, "tickColor": "#333333", "tickWidth": 1.5, "labelFont": "DejaVu Sans", "labelFontSize": 19.5, "labelColor": "#333333", "labelPadding": 2}},
  "color": {"field": "k", "type": "nominal", "scale": {"domain": ["SIG", "RSI"], "range": ["#8a8a8a", "#1d2b40"]}, "legend": null},
  "order": {"field": "i", "type": "quantitative"}}},
{"data": {"name": "rtk"}, "mark": {"type": "rule", "color": "#333333", "strokeWidth": 1.5}, "encoding": {"x": {"datum": 170.62, "type": "quantitative", "title": null}, "x2": {"datum": 171.24}, "y": {"field": "t", "type": "quantitative", "title": null}}},
{"data": {"values": [{}]}, "mark": {"type": "rule", "color": "#111111", "strokeWidth": 3}, "encoding": {"x": {"datum": -0.961, "type": "quantitative", "title": null}}},
{"data": {"values": [{}]}, "mark": {"type": "rule", "color": "#222222", "strokeWidth": 2.5}, "encoding": {"y": {"datum": 77.1, "type": "quantitative", "title": null}}},
{"data": {"values": [{}]}, "mark": {"type": "rule", "color": "#222222", "strokeWidth": 2.5}, "encoding": {"y": {"datum": 23.87, "type": "quantitative", "title": null}}},
{"data": {"values": [{}]}, "mark": {"type": "text", "align": "center", "baseline": "middle", "font": "DejaVu Sans", "fontWeight": "bold", "fontSize": 21.7, "color": "#111111"}, "encoding": {"x": {"datum": 82.05, "type": "quantitative", "title": null}, "y": {"datum": 71.6, "type": "quantitative", "title": null}, "text": {"value": "14 period RSI generated bullish crossover suggest positive bias"}}},
{"data": {"values": [{}]}, "mark": {"type": "text", "align": "center", "baseline": "middle", "font": "DejaVu Sans", "fontSize": 19, "color": "#333333"}, "encoding": {"x": {"datum": 177.3, "type": "quantitative", "title": null}, "y": {"datum": 20.3, "type": "quantitative", "title": null}, "text": {"value": "Dly"}}}
]
}
]
}
